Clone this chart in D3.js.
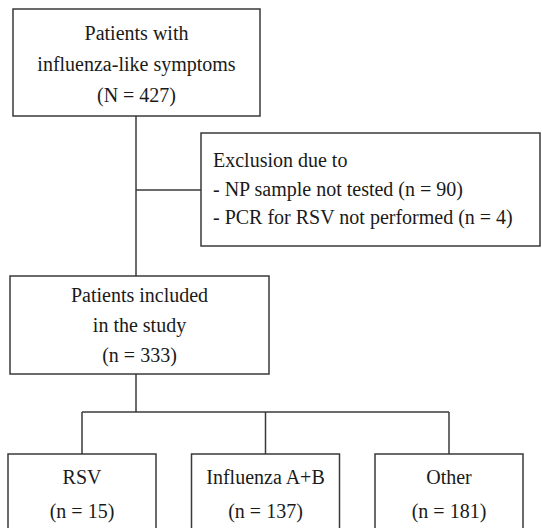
<!DOCTYPE html>
<html>
<head>
  <meta charset="utf-8">
  <script src="https://d3js.org/d3.v7.min.js"></script>
<style>
text { font-family: "Times New Roman", "Liberation Serif", Tinos, serif; }
</style>
</head>
<body style="margin:0">
<svg width="542" height="528"></svg>
<script>

// data
let topLabel = ['Patients with', 'influenza-like symptoms'];
let totalN = 427;
let excludeTitle = 'Exclusion due to';
let excludeReasons = ['NP sample not tested', 'PCR for RSV not performed'];
let excludeCounts = [90, 4];
let includedLabel = ['Patients included', 'in the study'];
let includedN = 333;
let groups = ['RSV', 'Influenza A+B', 'Other'];
let groupCounts = [15, 137, 181];

// layout
let svg = d3.select('svg');
let stroke = '#3a3a3a';

let topBox = {x: 13, y: 9, w: 247, h: 107};
let exBox = {x: 201, y: 133, w: 339, h: 113};
let midBox = {x: 10, y: 276, w: 259, h: 98};
let spine = 136;
let branchY = 412;
let groupX = d3.scalePoint().domain(groups).range([82, 449]);
let groupW = 148;
let groupTop = 454;

function box(b) {
  svg.append('rect')
    .attr('x', b.x).attr('y', b.y).attr('width', b.w).attr('height', b.h)
    .attr('fill', '#fff').attr('stroke', stroke).attr('stroke-width', 1.5);
}

function link(pts) {
  svg.append('path')
    .attr('d', d3.line()(pts))
    .attr('fill', 'none').attr('stroke', stroke).attr('stroke-width', 1.5);
}

function textLines(lines, x, y0, step, anchor) {
  svg.selectAll(null)
    .data(lines)
    .enter().append('text')
    .attr('x', x)
    .attr('y', (d, i) => y0 + i * step)
    .attr('text-anchor', anchor)
    .attr('font-family', 'Times New Roman')
    .attr('font-size', 20)
    .attr('fill', '#1a1a1a')
    .text(d => d);
}

// connectors
link([[spine, topBox.y + topBox.h], [spine, midBox.y]]);
link([[spine, 190], [exBox.x, 190]]);
link([[spine, midBox.y + midBox.h], [spine, branchY]]);
link([[groupX(groups[0]), branchY], [groupX(groups[groups.length - 1]), branchY]]);
groups.forEach(g => link([[groupX(g), branchY], [groupX(g), groupTop]]));

// top box
box(topBox);
textLines(topLabel.concat(['(N = ' + totalN + ')']), topBox.x + topBox.w / 2, 40, 31, 'middle');

// exclusion box
box(exBox);
let exLines = [excludeTitle].concat(excludeReasons.map((r, i) => '- ' + r + ' (n = ' + excludeCounts[i] + ')'));
textLines(exLines, exBox.x + 12, 167, 28.5, 'start');

// included box
box(midBox);
textLines(includedLabel.concat(['(n = ' + includedN + ')']), midBox.x + midBox.w / 2, 302, 30, 'middle');

// group boxes
groups.forEach((g, i) => {
  let cx = groupX(g);
  box({x: cx - groupW / 2, y: groupTop, w: groupW, h: 100});
  textLines([g, '(n = ' + groupCounts[i] + ')'], cx, 484, 34, 'middle');
});

</script>
</body>
</html>
